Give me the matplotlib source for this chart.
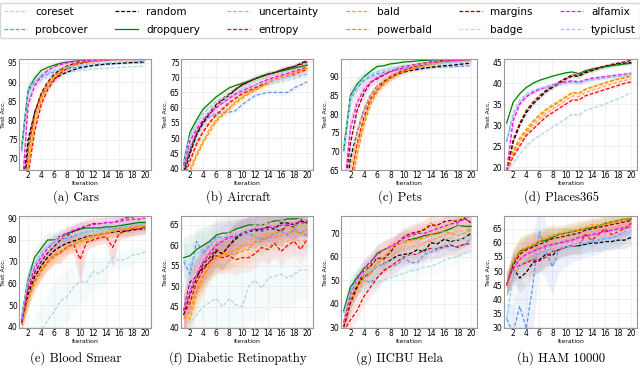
import numpy as np
import matplotlib as mpl
import matplotlib.pyplot as plt

methods = ['coreset', 'probcover', 'random', 'dropquery', 'uncertainty', 'entropy',
           'bald', 'powerbald', 'margins', 'badge', 'alfamix', 'typiclust']
colors = {'coreset': '#add8e6', 'probcover': '#6495ed', 'random': 'black',
          'dropquery': 'green', 'uncertainty': '#ffa07a', 'entropy': 'red',
          'bald': 'orange', 'powerbald': 'darkorange', 'margins': 'darkred',
          'badge': 'pink', 'alfamix': 'magenta', 'typiclust': '#87cefa'}
iters = np.arange(1, 21)

# (a) Cars
cars = dict(
    coreset=[72.5, 87, 89.3, 90.5, 91.3, 91.8, 92.2, 92.5, 92.8, 93.0, 93.2, 93.4, 93.5, 93.6, 93.7, 93.8, 93.9, 94.0, 94.1, 94.2],
    probcover=[72, 87.5, 90, 91.2, 92, 92.6, 93, 93.4, 93.7, 94, 94.2, 94.4, 94.5, 94.6, 94.7, 94.8, 94.9, 95, 95, 95.1],
    random=[60, 75, 82, 86.5, 89, 90.8, 91.8, 92.6, 93.2, 93.7, 94, 94.3, 94.5, 94.7, 94.8, 94.9, 95, 95.1, 95.2, 95.3],
    dropquery=[73, 88, 91, 93, 93.8, 94.4, 94.9, 95.2, 95.4, 95.5, 95.6, 95.7, 95.8, 95.8, 95.9, 95.9, 96, 96, 96, 96],
    uncertainty=[52, 69, 79, 85, 88.5, 91, 92.6, 93.6, 94.3, 94.8, 95.1, 95.4, 95.6, 95.7, 95.8, 95.9, 95.9, 96, 96, 96],
    entropy=[50, 66, 77, 84, 88, 90.5, 92.3, 93.5, 94.3, 94.8, 95.2, 95.5, 95.6, 95.7, 95.8, 95.9, 95.9, 96, 96, 96],
    bald=[51, 68, 79, 85.5, 89, 91.3, 92.8, 93.8, 94.5, 95, 95.3, 95.5, 95.7, 95.8, 95.9, 95.9, 96, 96, 96, 96],
    powerbald=[54, 71, 81, 86.5, 89.5, 91.5, 92.9, 93.9, 94.6, 95, 95.3, 95.5, 95.6, 95.7, 95.8, 95.9, 95.9, 96, 96, 96],
    margins=[56, 73, 82, 87, 90, 92, 93.3, 94.2, 94.8, 95.2, 95.4, 95.6, 95.7, 95.8, 95.9, 95.9, 96, 96, 96, 96],
    badge=[61, 85, 89.5, 91.5, 92.8, 93.7, 94.3, 94.8, 95.1, 95.4, 95.5, 95.6, 95.7, 95.8, 95.8, 95.9, 95.9, 96, 96, 96],
    alfamix=[60, 84, 89, 91.5, 93, 94, 94.6, 95, 95.3, 95.5, 95.6, 95.7, 95.8, 95.8, 95.9, 95.9, 96, 96, 96, 96],
    typiclust=[73, 88, 90.5, 91.6, 92.4, 93, 93.5, 93.9, 94.2, 94.4, 94.6, 94.8, 94.9, 95, 95.1, 95.2, 95.3, 95.4, 95.4, 95.5],
)
cars_band = [2.5, 2, 1.5, 1.2, 1, 0.8, 0.7, 0.6, 0.5, 0.5, 0.4, 0.4, 0.4, 0.3, 0.3, 0.3, 0.3, 0.3, 0.3, 0.3]

# (b) Aircraft
aircraft = dict(
    coreset=[41, 50, 54, 57, 59, 60.5, 62, 63, 64, 65, 66, 66.5, 67, 67.5, 68, 68.5, 69, 69.5, 70.2, 71],
    probcover=[40, 47, 52, 55, 57, 58, 58.5, 58.5, 59, 61, 62.5, 64, 64.5, 65, 65, 65, 65, 66.5, 67.5, 68.5],
    random=[38, 45, 51, 55, 58, 60.5, 62.5, 64, 66, 67.5, 68.5, 69.5, 70.3, 71, 71.5, 72.3, 73, 73.5, 74.5, 75.5],
    dropquery=[42, 52, 56, 59.5, 61.5, 63.5, 65, 66.5, 67.3, 68, 68.7, 69.5, 70.3, 71, 71.5, 72, 72.5, 73, 73.5, 74],
    uncertainty=[37, 43, 48.5, 52.5, 55.5, 58, 60, 62, 63.5, 65, 66, 67, 68, 69, 69.5, 70.2, 70.8, 71.4, 72, 72.5],
    entropy=[37, 42.5, 48, 52, 55, 57.5, 59.5, 61.5, 63, 64.5, 65.5, 66.5, 67.5, 68.5, 69.3, 70, 70.5, 71, 71.8, 72.5],
    bald=[35, 40, 45, 49, 53, 56, 58, 60, 62, 63.5, 65, 66, 67, 68.5, 69.3, 70, 70.8, 71.5, 72.3, 73],
    powerbald=[34, 39, 44, 48.5, 52, 55.5, 57.5, 59.5, 61.5, 63, 64.5, 65.7, 67, 68, 69, 69.8, 70.6, 71.4, 72.2, 73],
    margins=[39, 46, 51.5, 55.5, 58.5, 61, 63, 64.5, 66, 67.5, 68.5, 69.5, 70.3, 71, 71.5, 72.3, 73, 73.5, 74.2, 75],
    badge=[42, 50, 54, 56.5, 58.5, 60.5, 62, 63.5, 64.5, 65.5, 66.5, 67.3, 68, 68.7, 69.3, 70, 70.6, 71.2, 71.6, 72],
    alfamix=[41, 49, 53, 56, 58, 60, 61.5, 63, 64.5, 65.5, 66.5, 67.5, 68.5, 69.3, 70, 70.7, 71.3, 72, 72.7, 73.5],
    typiclust=[42, 51, 55, 58, 60, 62, 63, 64, 65, 66, 67, 67.5, 68, 68.5, 69, 69.5, 70, 70.5, 70.7, 71],
)
aircraft_band = [1.5, 1.5, 1.5, 1.3, 1.2, 1.2, 1.1, 1, 1, 1, 1, 1, 1, 1, 1, 1, 1, 1, 1, 1]

# (c) Pets
pets = dict(
    coreset=[70, 84, 87, 89.3, 90.3, 90.9, 91.4, 91.8, 92.1, 92.4, 92.6, 92.8, 93, 93.2, 93.3, 93.5, 93.6, 93.7, 93.8, 94],
    probcover=[70, 84, 87, 89, 90, 90.8, 91.2, 91.5, 91.8, 92, 92.2, 92.3, 92.4, 92.5, 92.6, 92.7, 92.7, 92.8, 92.9, 93],
    random=[55, 68, 75, 81, 85, 87.5, 88.8, 89.8, 90.7, 91.3, 91.7, 92, 92.3, 92.6, 92.8, 93, 93.1, 93.3, 93.5, 93.7],
    dropquery=[70.5, 85, 88, 90, 91.5, 92.8, 93, 93.5, 93.7, 94, 94.1, 94.3, 94.4, 94.5, 94.6, 94.7, 94.8, 94.8, 94.9, 95],
    uncertainty=[52, 65, 75, 81, 85, 87.5, 89.2, 90.4, 91.2, 91.9, 92.5, 93, 93.4, 93.7, 94, 94.2, 94.4, 94.5, 94.6, 94.7],
    entropy=[50, 62, 72, 79, 84, 86.5, 88.5, 90, 91, 91.8, 92.4, 92.8, 93.2, 93.5, 93.8, 94, 94.2, 94.3, 94.5, 94.8],
    bald=[49, 61, 71, 78, 83, 86.5, 88.5, 89.8, 90.8, 91.5, 92.1, 92.6, 93, 93.4, 93.7, 94, 94.2, 94.4, 94.5, 94.7],
    powerbald=[47, 59, 69, 77, 82.5, 86, 88, 89.5, 90.6, 91.4, 92, 92.5, 92.9, 93.3, 93.6, 93.9, 94.1, 94.3, 94.5, 94.6],
    margins=[58, 72, 81, 85.5, 88.5, 89.5, 90.5, 91.5, 92.3, 92.8, 93.1, 93.4, 93.7, 94, 94.2, 94.4, 94.5, 94.7, 94.8, 95],
    badge=[60, 78, 84, 87, 89, 90.2, 91, 91.7, 92.2, 92.6, 93, 93.3, 93.6, 93.8, 94, 94.2, 94.3, 94.5, 94.6, 94.7],
    alfamix=[58, 76, 83, 86.5, 88.5, 89.8, 90.7, 91.4, 92, 92.5, 92.9, 93.2, 93.5, 93.8, 94, 94.2, 94.3, 94.5, 94.6, 94.7],
    typiclust=[70.5, 84.5, 87.5, 89.8, 90.7, 91.3, 91.8, 92.2, 92.5, 92.8, 93, 93.2, 93.4, 93.5, 93.7, 93.8, 93.9, 94, 94.1, 94.2],
)
pets_band = [3, 2.5, 2, 1.6, 1.3, 1.1, 1, 0.9, 0.8, 0.7, 0.6, 0.6, 0.5, 0.5, 0.5, 0.5, 0.5, 0.5, 0.5, 0.5]

# (d) Places365
places = dict(
    coreset=[19, 21, 23, 25, 26.5, 27.5, 28.5, 29.5, 30.5, 31.5, 32.7, 32.3, 33.5, 34, 34.5, 35, 35.7, 36.3, 37, 37.8],
    probcover=[26, 32, 35.5, 37, 37.8, 38.5, 39, 39.5, 39.8, 40.1, 40.4, 40.2, 40.6, 40.9, 41.1, 41.3, 41.5, 41.7, 41.9, 42.1],
    random=[19, 26, 30, 33, 35, 36.5, 38, 39, 40, 41, 41.7, 41.7, 42.5, 43, 43.5, 44, 44.3, 44.6, 44.8, 45],
    dropquery=[30.5, 35.5, 37.5, 39, 40, 40.7, 41.2, 41.7, 42.1, 42.5, 42.7, 42.3, 43, 43.4, 43.7, 44, 44.2, 44.4, 44.6, 44.8],
    uncertainty=[19, 23, 25.8, 28, 29.8, 31.3, 32.8, 33.8, 34.8, 35.8, 37, 36.8, 37.8, 38.3, 38.8, 39.3, 39.8, 40.3, 40.7, 41],
    entropy=[19, 22.5, 25, 27.5, 29, 30.5, 32, 33, 34, 35, 36, 36, 37, 37.5, 38, 38.5, 39, 39.5, 40, 40.3],
    bald=[19, 23.5, 26.5, 28.5, 30.5, 32, 33.5, 34.5, 35.5, 36.5, 37.8, 37.5, 38.5, 39, 39.5, 40, 40.5, 41, 41.3, 41.6],
    powerbald=[19, 24, 27, 29, 31, 32.5, 33.8, 34.8, 35.8, 36.8, 37.8, 37.6, 38.6, 39.1, 39.6, 40.1, 40.6, 41, 41.4, 41.7],
    margins=[19, 26.5, 30.5, 33.5, 35.5, 37, 38.3, 39.3, 40.3, 41.2, 42, 41.9, 42.7, 43.2, 43.7, 44.1, 44.5, 44.8, 45.1, 45.5],
    badge=[19, 32, 35.5, 37, 37.8, 38.5, 39, 39.5, 40, 40.2, 40.5, 40, 40.5, 41, 41.2, 41.5, 41.7, 42, 42.1, 42.3],
    alfamix=[19, 31, 35, 36.8, 37.8, 38.6, 39.1, 39.6, 40, 40.3, 40.6, 40.3, 40.8, 41.2, 41.4, 41.6, 41.8, 42, 42.2, 42.4],
    typiclust=[26.5, 33, 36, 37.5, 38.3, 38.8, 39.2, 39.5, 39.8, 40, 40.2, 40, 40.5, 40.8, 41, 41.3, 41.5, 41.8, 42, 42.3],
)
places_band = [0.5] * 20

# (e) Blood Smear
blood = dict(
    coreset=[33, 30, 35, 38, 43, 47, 52, 54, 58.5, 61, 60.5, 65.5, 64.5, 67, 72, 70.5, 71, 73, 73.5, 74.5],
    probcover=[44, 62, 68, 74, 77, 79, 80, 81, 82, 83, 83.5, 84, 84.5, 85, 85, 85.5, 86, 86.5, 86.5, 87],
    random=[42, 55, 63, 68, 72, 75, 77, 78.5, 79.5, 80.5, 81.5, 82, 82.5, 83, 83.5, 84, 84, 84.5, 85, 85],
    dropquery=[44, 62, 72, 76, 80, 80, 82, 83, 84, 85, 85.5, 85.5, 85.5, 86, 86, 86.5, 87, 87.5, 88, 88],
    uncertainty=[41, 53, 61, 66, 70, 73, 75, 77, 78.5, 80, 81, 82, 83, 83.5, 84, 84.5, 85, 85.5, 86, 86.5],
    entropy=[41, 53, 61, 66, 70, 73, 74, 77, 78, 71, 79, 80, 81, 81.5, 76.5, 83, 84, 85, 85, 86],
    bald=[41, 52, 60, 65, 69, 72, 74, 76, 77.5, 79, 80, 81, 82, 83, 83.5, 84.5, 85, 86, 86.5, 87],
    powerbald=[41, 53, 61, 66, 70, 73, 75, 77, 78.5, 79.5, 80.5, 81.5, 82.5, 83, 84, 84.5, 85, 85.5, 86, 86.5],
    margins=[42, 57, 65, 70, 74, 77, 80, 82, 84, 85, 86.5, 87.5, 87.5, 88, 88, 89, 90, 90.5, 91, 91],
    badge=[43, 60, 68, 73, 77, 80, 82, 84, 85.5, 86.5, 87, 88, 88, 88, 88.5, 89, 89.5, 90, 90, 90.5],
    alfamix=[43, 59, 67, 72, 76, 79, 81, 83, 84.5, 85.5, 86.5, 87, 87.5, 88, 88, 88.5, 89, 89.5, 89.5, 90],
    typiclust=[44, 63, 69, 74, 77, 79, 80.5, 81.5, 82.5, 83, 83.5, 84, 84.5, 85, 85.5, 86, 86, 86.5, 87, 87],
)
blood_band = [3, 4, 4, 4, 3.5, 3.5, 3, 3, 3, 3, 3, 2.5, 2.5, 2.5, 2.5, 2.5, 2.5, 2.5, 2.5, 2.5]
blood_coreset_band = [6, 8, 10, 12, 13, 13, 12, 12, 11, 10, 9, 8, 7, 6, 5, 5, 4, 4, 3, 3]
blood_entropy_band = [3, 4, 4, 4, 4, 4, 5, 4, 4, 11, 4, 3, 3, 3, 9, 3, 3, 3, 3, 3]

# (f) Diabetic Retinopathy
retina = dict(
    coreset=[44, 41, 43, 45, 46, 47, 45, 47, 45.5, 45, 50, 51.5, 49.5, 52, 52.5, 53, 52, 53, 54, 54],
    probcover=[56, 53, 61, 58, 60, 62, 62, 62, 61.5, 62.5, 63, 62, 61.5, 62, 63, 63.5, 62.5, 64, 63, 62.5],
    random=[44, 51, 52.5, 54.5, 56, 58.5, 58, 60, 61.5, 63, 63.5, 63.5, 64, 64.5, 64, 65.5, 65.5, 65, 66, 65.5],
    dropquery=[57, 57.5, 59, 60, 61, 62.5, 63, 63, 64, 64.5, 65, 65, 65, 65.5, 66, 66, 66.5, 66.5, 66.5, 66],
    uncertainty=[43, 47, 50, 53, 56, 57, 58, 58, 59, 59, 59.5, 59.5, 60, 60, 60.5, 61, 61, 61.5, 61, 61.5],
    entropy=[43, 46, 51, 54, 56, 57.5, 57, 57.5, 56.5, 57, 57, 58, 59.5, 59, 60.5, 58.5, 60, 61, 59, 61.5],
    bald=[43, 42, 48, 52, 55, 57, 58, 58.5, 59, 60, 61, 62, 62, 63, 63, 64, 64.5, 64, 65, 65],
    powerbald=[42, 44, 49, 52.5, 55, 57, 57.5, 58, 58, 58.5, 59, 61, 61, 62, 62, 62.5, 63, 63.5, 63, 64],
    margins=[43, 48, 52, 55.5, 57, 59, 58, 60, 62, 63, 63.5, 64, 63.5, 64, 64, 63.5, 65, 64.5, 66, 65.5],
    badge=[44, 50, 54, 57, 59, 61, 62, 63, 63.5, 64, 64.5, 65, 65, 65.5, 65.5, 66, 66, 66, 66.5, 66],
    alfamix=[44, 49, 53, 56, 58, 60, 61, 62, 62.5, 63, 63.5, 64, 64, 64.5, 64.5, 65, 65, 65.5, 65.5, 65.5],
    typiclust=[56.5, 55, 58, 59, 60.5, 61.5, 62, 62.5, 62.5, 63, 63.5, 63.5, 63.5, 64, 64, 64.5, 64.5, 65, 65, 65],
)
retina_band = [5, 5, 4.5, 4.5, 4, 4, 4, 4, 4, 3.5, 3.5, 3.5, 3.5, 3.5, 3.5, 3.5, 3.5, 3.5, 3.5, 3.5]
retina_coreset_band = [4, 5, 6, 8, 9, 10, 10, 10, 10, 10, 9, 9, 9, 8, 8, 8, 8, 7, 7, 7]

# (g) IICBU Hela
hela = dict(
    coreset=[32, 39, 44, 46, 48, 49, 50, 51, 52, 53, 54, 54.5, 55.5, 56, 57, 58.5, 59.5, 60, 61.5, 62.5],
    probcover=[36, 46, 52, 50, 49, 51, 54.5, 56, 56.5, 59.5, 57.5, 57.5, 61, 62, 63, 64, 64.5, 64.5, 65, 68],
    random=[30, 42, 47.5, 51.5, 53, 56, 57, 58.5, 60.5, 61, 61.5, 63, 62, 66, 65.5, 67.5, 66.5, 67, 68, 70],
    dropquery=[37, 47, 51, 55, 57, 61.5, 63, 64, 65.5, 67, 67.5, 68, 69, 69.5, 70, 71, 72, 73.5, 73, 73],
    uncertainty=[29, 38, 44, 49, 53, 56, 58, 60, 62, 63, 64, 65, 66, 67, 68, 69, 70, 71, 71, 72],
    entropy=[28, 33, 37, 43, 47, 51, 54, 56, 58, 60, 61, 61, 63, 63.5, 63.5, 64.5, 65, 64, 65.5, 65.5],
    bald=[31, 42, 48, 52, 56, 60, 63, 64, 66, 67, 69, 70, 72, 74.5, 72, 73, 74, 76, 76.5, 77],
    powerbald=[30, 40, 46, 51, 54, 57, 60, 63, 65, 66, 67, 67.5, 68, 69.5, 70.5, 71, 70, 69, 70, 71.5],
    margins=[30, 40, 47, 54, 56, 59.5, 59, 62, 66, 68.5, 70, 70.5, 71.5, 73.5, 73.5, 75, 75.5, 75, 76.5, 74.5],
    badge=[32, 43, 50, 54, 57, 60, 62, 64, 65.5, 67, 68, 69, 70, 71, 72, 72.5, 73, 73.5, 74, 74],
    alfamix=[32, 44, 50, 55, 58, 61, 63, 64.5, 66, 68, 69, 70, 70, 71, 72, 73, 74, 74.5, 76, 75],
    typiclust=[36, 45, 50, 53, 54, 56, 57, 58, 59.5, 60, 61, 61.5, 62, 63, 64, 65, 66, 67, 68, 69],
)
hela_band = [3, 4, 4, 4, 4, 4, 4, 4, 4, 4, 4, 4, 4, 4, 4, 4, 4, 4, 4, 4]

# (h) HAM 10000
ham = dict(
    coreset=[45, 48, 50, 52, 53, 54, 55, 56, 57, 57.5, 58, 58.5, 59, 59.5, 60, 60, 60.5, 61, 61, 61.5],
    probcover=[33, 28, 37.5, 29.5, 45, 64, 57, 51.5, 57.5, 58.5, 59, 59, 60, 60.5, 61, 61.5, 62, 62.5, 64, 66],
    random=[45, 51, 47.5, 49.5, 53, 54, 56, 55.5, 58, 58.5, 59, 59, 59.5, 60, 60, 60.5, 60.5, 61, 61, 62],
    dropquery=[45, 53, 57, 58, 59, 60.5, 61, 62, 63, 63.5, 64, 64.5, 65, 65.5, 66, 67, 67.5, 68, 68.5, 68.5],
    uncertainty=[45, 52, 55, 56.5, 58, 59, 60, 61, 61.5, 62, 62.5, 63, 63.5, 64, 64.5, 65, 65.5, 66, 66.5, 67],
    entropy=[45, 51, 52, 53, 54, 53.5, 55, 57, 57.5, 58.5, 59, 59, 63, 61, 63, 65, 63, 64, 65, 67],
    bald=[45, 53, 57.5, 58.5, 59.5, 61, 62, 63, 63.5, 64, 64.5, 65, 65.5, 66.5, 66.5, 67, 67.5, 68, 68.5, 69],
    powerbald=[45, 52.5, 56.5, 58, 59, 60.5, 61.5, 62.5, 63, 63.5, 64, 64.5, 65, 66, 66, 66.5, 67, 67.5, 68, 68.5],
    margins=[45, 52, 56, 57.5, 58.5, 59.5, 60.5, 61.5, 62, 62.5, 63, 63.5, 64.5, 65, 65.5, 66, 66.5, 67, 67.5, 68],
    badge=[45, 50, 53, 55, 56, 57, 58, 58.5, 59, 59.5, 60, 61, 61.5, 62, 62.5, 63, 63.5, 64, 64.5, 65],
    alfamix=[45, 51, 54, 56, 57, 58, 59, 59.5, 60, 60.5, 61, 62, 62.5, 63, 63.5, 64, 64.5, 65, 65.5, 66],
    typiclust=[33, 48, 52, 54, 55, 56, 57, 57.5, 58, 58.5, 59, 59.5, 60, 60.5, 61, 61.5, 62, 62.5, 63, 64],
)
ham_band = [4, 5, 5, 5, 5, 4, 4, 4, 3, 3, 3, 3, 3, 3, 3, 3, 3, 3, 3, 3]
ham_probcover_band = [6, 10, 12, 14, 16, 14, 10, 10, 8, 7, 6, 5, 5, 5, 5, 4, 4, 4, 4, 4]

panels = [
    (cars, cars_band, {}, '(a) Cars', (67.1, 96.0), [70, 75, 80, 85, 90, 95]),
    (aircraft, aircraft_band, {}, '(b) Aircraft', (39.5, 76.0), [40, 45, 50, 55, 60, 65, 70, 75]),
    (pets, pets_band, {}, '(c) Pets', (65.0, 94.8), [65, 70, 75, 80, 85, 90]),
    (places, places_band, {}, '(d) Places365', (19.3, 45.8), [20, 25, 30, 35, 40, 45]),
    (blood, blood_band, {'coreset': blood_coreset_band, 'entropy': blood_entropy_band},
     '(e) Blood Smear', (39.5, 91.0), [40, 50, 60, 70, 80, 90]),
    (retina, retina_band, {'coreset': retina_coreset_band},
     '(f) Diabetic Retinopathy', (39.8, 67.2), [40, 45, 50, 55, 60, 65]),
    (hela, hela_band, {}, '(g) IICBU Hela', (29.6, 77.4), [30, 40, 50, 60, 70]),
    (ham, ham_band, {'probcover': ham_probcover_band},
     '(h) HAM 10000', (29.7, 69.6), [30, 35, 40, 45, 50, 55, 60, 65]),
]

W, H = 640, 384
col_px = [(19, 151), (181, 313), (341, 477), (504, 637)]
row_px = [(59, 170), (216, 328)]
caption_gap = [27, 30]

fig = plt.figure(figsize=(6.4, 3.84), dpi=100)
handles = {}
for k, (data, band, wide, title, ylim, yticks) in enumerate(panels):
    r, c = divmod(k, 4)
    x0, x1 = col_px[c]
    t, b = row_px[r]
    ax = fig.add_axes([x0 / W, 1 - b / H, (x1 - x0) / W, (b - t) / H])
    for m in methods:
        y = np.array(data[m])
        s = np.array(wide.get(m, band))
        if m == 'dropquery':
            line, = ax.plot(iters, y, '-', color=colors[m], lw=0.9, label=m)
        else:
            line, = ax.plot(iters, y, '--', color=colors[m], lw=0.9, label=m, dashes=(3, 1.5))
        ax.fill_between(iters, y - s, y + s, color=colors[m],
                        alpha=0.12 if m in wide else 0.07, lw=0)
        handles[m] = line
    ax.set_xlim(0.6, 20.9)
    ax.set_ylim(*ylim)
    ax.set_xticks(range(2, 21, 2))
    ax.set_yticks(yticks)
    ax.grid(color='#eeeeee', lw=0.6)
    ax.set_axisbelow(True)
    ax.tick_params(labelsize=5.5, length=0, pad=1)
    for sp in ax.spines.values():
        sp.set_color('#999999')
        sp.set_linewidth(0.8)
    ax.set_xlabel('Iteration', fontsize=4.5, labelpad=0.5)
    ax.set_ylabel('Test Acc.', fontsize=4.5, labelpad=1)
    fig.text(((x0 + x1) / 2 - 9) / W, 1 - (b + caption_gap[r]) / H, title,
             ha='center', va='center', fontsize=9.2, family='cmr10')

fig.legend([handles[m] for m in methods], methods, loc='upper center',
           bbox_to_anchor=(0.5, 0.997), ncol=6, fontsize=7.5, frameon=True,
           handlelength=2.2, columnspacing=2.6, borderaxespad=0.2,
           labelspacing=0.75, borderpad=0.35, fancybox=True, edgecolor='#cccccc')

plt.savefig('out.png', dpi=100)
